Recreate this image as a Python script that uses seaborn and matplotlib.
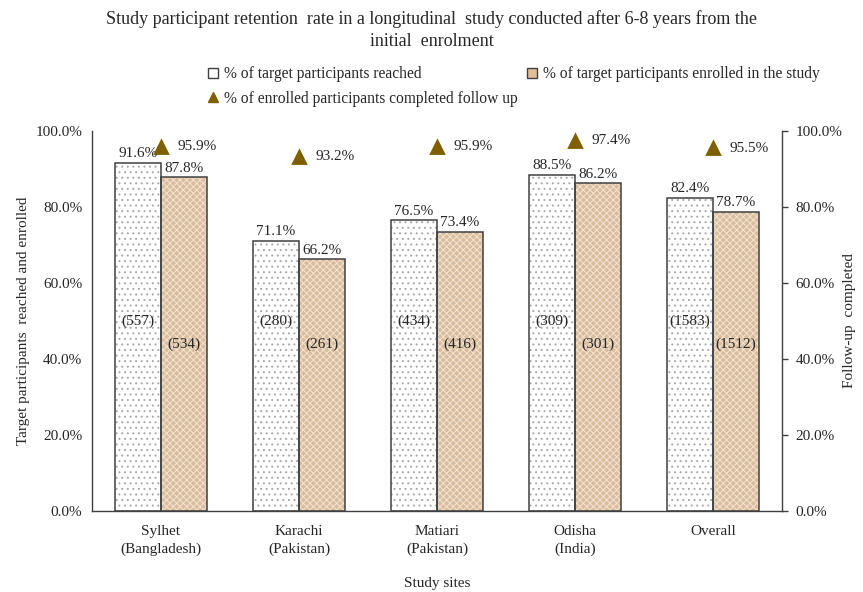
# Study participant retention chart (bars + follow-up triangles on twin axis)

import numpy as np
import pandas as pd
import matplotlib
matplotlib.use("Agg")
import matplotlib.pyplot as plt
from matplotlib.lines import Line2D
from matplotlib.ticker import PercentFormatter
import seaborn as sns

# ---------------- data ----------------
sites = ["Sylhet\n(Bangladesh)", "Karachi\n(Pakistan)", "Matiari\n(Pakistan)",
         "Odisha\n(India)", "Overall"]
reached_pct = [91.6, 71.1, 76.5, 88.5, 82.4]
enrolled_pct = [87.8, 66.2, 73.4, 86.2, 78.7]
followup_pct = [95.9, 93.2, 95.9, 97.4, 95.5]
reached_n = [557, 280, 434, 309, 1583]
enrolled_n = [534, 261, 416, 301, 1512]

lbl_reached = "% of target participants reached"
lbl_enrolled = "% of target participants enrolled in the study"
lbl_follow = "% of enrolled participants completed follow up"

df = pd.DataFrame({
    "site": sites * 2,
    "value": reached_pct + enrolled_pct,
    "measure": [lbl_reached] * len(sites) + [lbl_enrolled] * len(sites),
})

# ---------------- style ----------------
sns.set_style("white")
plt.rcParams["font.family"] = ["Liberation Serif", "DejaVu Serif"]
plt.rcParams["hatch.linewidth"] = 0.7

edge_col = "#404040"
tan = "#e3bd95"
tri_col = "#7f6000"

fig, ax = plt.subplots(figsize=(8.63, 5.92), dpi=100)
fig.subplots_adjust(left=0.1066, right=0.9061, bottom=0.1368, top=0.7787)

# filled + hatched bars
sns.barplot(data=df, x="site", y="value", hue="measure",
            palette=["white", tan], width=0.667, gap=0,
            errorbar=None, legend=False, ax=ax)
hatch_style = [("...", "#a8a8a8"), ("xxxxx", "#f5e4d0")]
for cont, (h, hc) in zip(ax.containers, hatch_style):
    for p in cont:
        p.set_hatch(h)
        p.set_edgecolor(hc)
        p.set_linewidth(0)

n_fill = len(ax.containers)

# outlines on top
sns.barplot(data=df, x="site", y="value", hue="measure",
            palette=["white", tan], width=0.667, gap=0, fill=False,
            errorbar=None, legend=False, ax=ax)
for cont in ax.containers[n_fill:]:
    for p in cont:
        p.set_edgecolor(edge_col)
        p.set_linewidth(1.1)
        p.set_fill(False)

# value and count labels
counts = [reached_n, enrolled_n]
count_y = [50.0, 43.8]
for k, cont in enumerate(ax.containers[:n_fill]):
    for p, n in zip(cont, counts[k]):
        cx = p.get_x() + p.get_width() / 2
        ax.annotate(f"{p.get_height():.1f}%", (cx, p.get_height()),
                    xytext=(0, 2), textcoords="offset points",
                    ha="center", va="bottom", fontsize=11)
        ax.text(cx, count_y[k], f"({n})", ha="center", va="center", fontsize=11)

ax.set_ylim(0, 100)
ax.yaxis.set_major_formatter(PercentFormatter(decimals=1))
ax.set_yticks(np.arange(0, 101, 20))
ax.set_xlabel("Study sites", fontsize=11, labelpad=15)
ax.set_ylabel("Target participants  reached and enrolled", fontsize=11, labelpad=4)
ax.tick_params(axis="y", length=0, pad=7, labelsize=11)
ax.tick_params(axis="x", length=0, pad=10, labelsize=11)
for t in ax.get_xticklabels():
    t.set_linespacing(1.45)
for s in ["top", "right"]:
    ax.spines[s].set_visible(False)
for s in ["left", "bottom"]:
    ax.spines[s].set_color(edge_col)
    ax.spines[s].set_linewidth(1.0)

# follow-up triangles on secondary axis
ax2 = ax.twinx()
sns.pointplot(x=sites, y=followup_pct, ax=ax2, color=tri_col,
              linestyle="none", marker="^", markersize=9, errorbar=None)
for i, v in enumerate(followup_pct):
    ax2.text(i + 0.12, v, f"{v:.1f}%", ha="left", va="center", fontsize=11)

ax2.set_ylim(0, 100)
ax2.set_xlim(-0.5, len(sites) - 0.5)
ax2.set_yticks(np.arange(0, 101, 20))
ax2.yaxis.set_major_formatter(PercentFormatter(decimals=1))
ax2.set_ylabel("Follow-up  completed", fontsize=11, rotation=90, labelpad=0)
ax2.tick_params(axis="y", length=4, width=1, color=edge_col, pad=6, labelsize=11)
for s in ["top", "left", "bottom"]:
    ax2.spines[s].set_visible(False)
ax2.spines["right"].set_color(edge_col)
ax2.spines["right"].set_linewidth(1.0)

# legend
handles = [
    Line2D([], [], marker="s", linestyle="none", markerfacecolor="white",
           markeredgecolor=edge_col, markersize=7),
    Line2D([], [], marker="^", linestyle="none", color=tri_col, markersize=7),
    Line2D([], [], marker="s", linestyle="none", markerfacecolor=tan,
           markeredgecolor=edge_col, markersize=7),
]
fig.legend(handles, [lbl_reached, lbl_follow, lbl_enrolled], ncol=2,
           loc="upper left", bbox_to_anchor=(207 / 863, 1 - 66 / 592),
           frameon=False, fontsize=11.2, handlelength=0.8, handletextpad=0.3,
           columnspacing=0.5, labelspacing=0.55, borderaxespad=0, borderpad=0)

fig.text(0.5, 1 - 10 / 592,
         "Study participant retention  rate in a longitudinal  study conducted after 6-8 years from the\ninitial  enrolment",
         ha="center", va="top", fontsize=13, linespacing=1.4)

plt.savefig("out.png", dpi=100)
